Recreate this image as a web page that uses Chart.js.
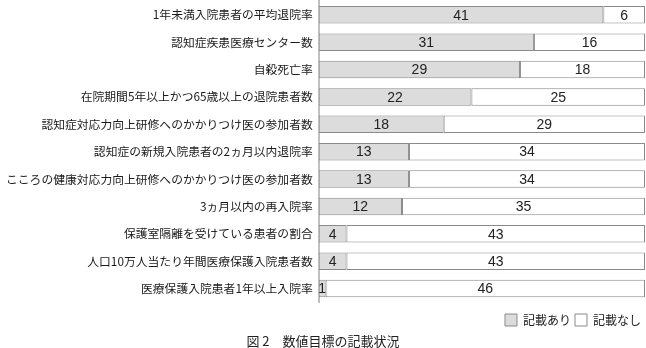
<!DOCTYPE html>
<html>
<head>
<meta charset="utf-8">
<script src="https://cdn.jsdelivr.net/npm/chart.js@4"></script>
<style>
  body { margin: 0; background: #fff; overflow: hidden; }
  #wrap { width: 646px; height: 348px; position: absolute; left: 0; top: -12px; }
  #caption { position: absolute; left: 0; top: 331px; width: 646px; text-align: center; font: 13px "Noto Sans CJK JP", serif; color: #222; }
</style>
</head>
<body>
<div id="wrap"><canvas id="myChart"></canvas></div>
<div id="caption">図 2　数値目標の記載状況</div>
<script>
const labels = [
  "1年未満入院患者の平均退院率",
  "認知症疾患医療センター数",
  "自殺死亡率",
  "在院期間5年以上かつ65歳以上の退院患者数",
  "認知症対応力向上研修へのかかりつけ医の参加者数",
  "認知症の新規入院患者の2ヵ月以内退院率",
  "こころの健康対応力向上研修へのかかりつけ医の参加者数",
  "3ヵ月以内の再入院率",
  "保護室隔離を受けている患者の割合",
  "人口10万人当たり年間医療保護入院患者数",
  "医療保護入院患者1年以上入院率",
];
const withTarget = [41, 31, 29, 22, 18, 13, 13, 12, 4, 4, 1];
const withoutTarget = [6, 16, 18, 25, 29, 34, 34, 35, 43, 43, 46];

const font = "'Noto Sans CJK JP', sans-serif";

// numbers in the middle of each bar
const barLabels = {
  id: "barLabels",
  afterDatasetsDraw(chart) {
    const ctx = chart.ctx;
    ctx.save();
    ctx.font = "14px 'Liberation Sans', sans-serif";
    ctx.fillStyle = "#222";
    ctx.textAlign = "center";
    ctx.textBaseline = "middle";
    chart.data.datasets.forEach((ds, i) => {
      chart.getDatasetMeta(i).data.forEach((bar, j) => {
        const p = bar.getProps(["x", "y", "base"], true);
        ctx.fillText(ds.data[j], (p.x + p.base) / 2, p.y + 1);
      });
    });
    ctx.restore();
  },
};

const config = {
  type: "bar",
  data: {
    labels,
    datasets: [
      {
        label: "記載あり",
        data: withTarget,
        backgroundColor: "#dcdcdc",
        borderColor: "#8a8a8a",
        borderWidth: 1,
        borderSkipped: false,
      },
      {
        label: "記載なし",
        data: withoutTarget,
        backgroundColor: "#ffffff",
        borderColor: "#8a8a8a",
        borderWidth: 1,
        borderSkipped: false,
      },
    ],
  },
  options: {
    indexAxis: "y",
    responsive: true,
    maintainAspectRatio: false,
    animation: false,
    categoryPercentage: 1,
    barPercentage: 0.64,
    layout: { padding: { right: 1, top: 0, bottom: 0 } },
    scales: {
      x: { stacked: true, min: 0, max: 47, display: false },
      y: {
        stacked: true,
        grid: { display: false, drawTicks: false },
        border: { color: "#c0c0c0", width: 2 },
        ticks: { color: "#1a1a1a", font: { family: font, size: 11.8 }, padding: 6 },
      },
    },
    plugins: {
      legend: {
        position: "bottom",
        align: "end",
        // tiny empty title just pushes the items down a bit
        title: { display: true, text: " ", font: { size: 6.5 }, padding: 0 },
        labels: { color: "#1a1a1a", boxWidth: 12, boxHeight: 12, font: { family: font, size: 12 }, padding: 4 },
      },
      tooltip: { enabled: false },
    },
  },
  plugins: [barLabels],
};

const myChart = new Chart(document.getElementById("myChart"), config);
</script>
</body>
</html>
